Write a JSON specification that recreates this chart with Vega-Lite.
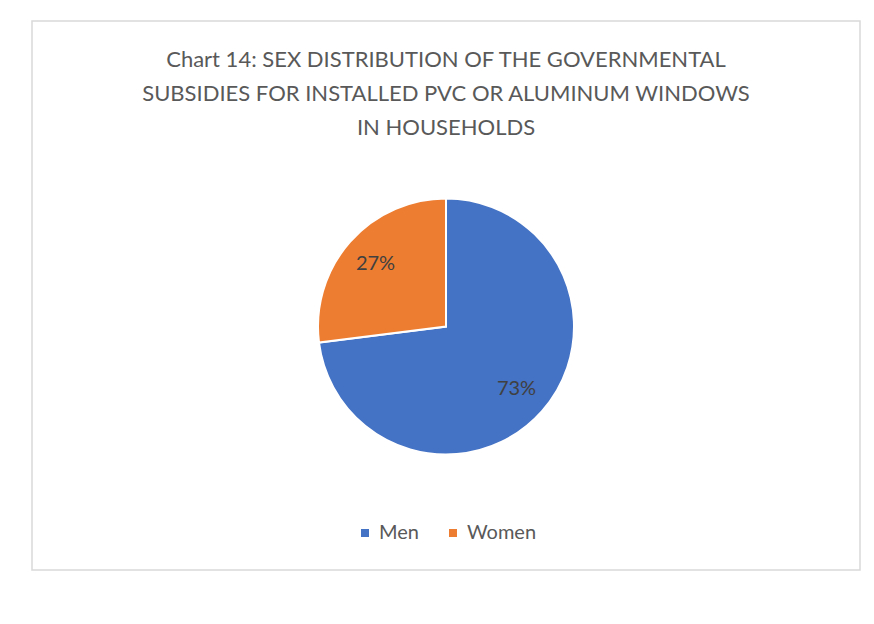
{
  "$schema": "https://vega.github.io/schema/vega-lite/v6.json",
  "width": 828,
  "height": 549,
  "autosize": {"type": "none"},
  "padding": {"left": 32, "top": 21, "right": 14, "bottom": 54},
  "background": "white",
  "view": {"stroke": "#d9d9d9", "strokeWidth": 1.5},
  "config": {"view": {"stroke": "#d9d9d9", "strokeWidth": 1.5}, "legend": {"layout": {"bottom": {"anchor": "middle"}}}},
  "title": {
    "text": ["Chart 14: SEX DISTRIBUTION OF THE GOVERNMENTAL", "SUBSIDIES FOR INSTALLED PVC OR ALUMINUM WINDOWS", "IN HOUSEHOLDS"],
    "anchor": "middle",
    "frame": "group",
    "orient": "top",
    "offset": -119,
    "font": "Lato",
    "fontSize": 22,
    "fontWeight": "normal",
    "color": "#595959",
    "lineHeight": 34
  },
  "data": {"values": [
    {"sex": "Men", "share": 0.73},
    {"sex": "Women", "share": 0.27}
  ]},
  "layer": [
    {
      "mark": {"type": "arc", "outerRadius": 128, "stroke": "white", "strokeWidth": 2, "y": {"expr": "height/2+31"}},
      "encoding": {
        "theta": {"field": "share", "type": "quantitative", "stack": true},
        "order": {"field": "sex", "type": "nominal", "sort": "ascending"},
        "color": {
          "field": "sex", "type": "nominal",
          "scale": {"domain": ["Men", "Women"], "range": ["#4472C4", "#ED7D31"]},
          "legend": {"orient": "bottom", "direction": "horizontal", "title": null, "symbolType": "square", "symbolSize": 90, "labelFont": "Lato", "labelFontSize": 20, "labelColor": "#595959", "columnPadding": 24, "offset": -47}
        }
      }
    },
    {
      "mark": {"type": "text", "radius": 94, "font": "Lato", "fontSize": 20, "color": "#404040", "y": {"expr": "height/2+31"}},
      "encoding": {
        "theta": {"field": "share", "type": "quantitative", "stack": true},
        "order": {"field": "sex", "type": "nominal", "sort": "ascending"},
        "detail": {"field": "sex", "type": "nominal"},
        "text": {"field": "share", "type": "quantitative", "format": ".0%"}
      }
    }
  ]
}
